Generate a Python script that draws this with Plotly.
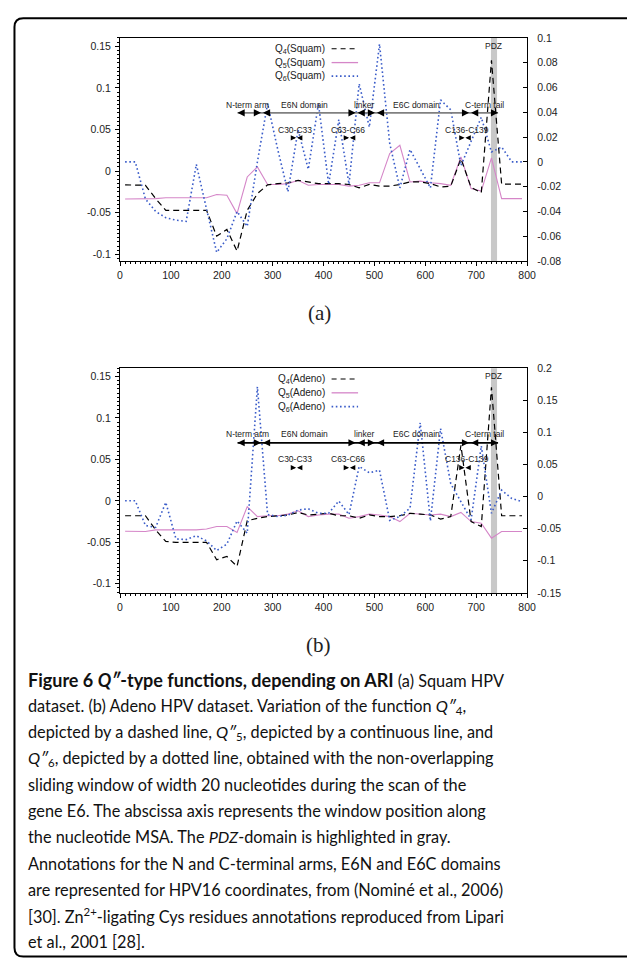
import plotly.graph_objects as go

# ---------------- data ----------------
window_pos = [10, 30, 50, 70, 90, 110, 130, 150, 170, 190,
              210, 230, 250, 270, 290, 310, 330, 350, 370, 390,
              410, 430, 450, 470, 490, 510, 530, 550, 570, 590,
              610, 630, 650, 670, 690, 710, 730, 750, 770, 790]

q4_squam = [-0.0165, -0.0165, -0.017, -0.033, -0.047, -0.047, -0.047, -0.047, -0.047, -0.078,
            -0.070, -0.096, -0.047, -0.027, -0.0165, -0.015, -0.014, -0.011, -0.013, -0.015,
            -0.015, -0.015, -0.016, -0.020, -0.016, -0.018, -0.018, -0.016, -0.013, -0.013,
            -0.015, -0.019, -0.018, 0.015, -0.0195, -0.026, 0.133, -0.0156, -0.0156, -0.0156]
q5_squam = [-0.0335, -0.0335, -0.0335, -0.033, -0.032, -0.032, -0.032, -0.032, -0.032, -0.028,
            -0.029, -0.051, -0.007, 0.005, -0.016, -0.016, -0.015, -0.011, -0.017, -0.016,
            -0.016, -0.016, -0.018, -0.017, -0.014, -0.014, 0.021, 0.031, -0.013, -0.012,
            -0.014, -0.015, -0.017, 0.017, -0.021, -0.024, 0.016, -0.033, -0.033, -0.033]
q6_squam = [0.0, 0.0, -0.030, -0.040, -0.045, -0.047, -0.048, -0.002, -0.038, -0.073,
            -0.062, -0.040, -0.052, 0.0, 0.047, 0.010, -0.024, 0.026, -0.006, 0.047,
            -0.018, 0.034, -0.018, 0.063, 0.028, 0.095, 0.015, -0.021, 0.010, -0.005,
            -0.021, 0.050, 0.042, -0.003, 0.016, 0.036, 0.008, 0.012, 0.0, 0.0]

q4_adeno = [-0.018, -0.018, -0.018, -0.035, -0.049, -0.050, -0.050, -0.050, -0.050, -0.071,
            -0.067, -0.079, -0.024, -0.021, -0.019, -0.018, -0.017, -0.014, -0.017, -0.016,
            -0.015, -0.018, -0.018, -0.021, -0.017, -0.019, -0.019, -0.018, -0.015, -0.016,
            -0.017, -0.022, -0.019, 0.067, -0.025, -0.031, 0.137, -0.018, -0.018, -0.018]
q5_adeno = [-0.0367, -0.0367, -0.037, -0.035, -0.035, -0.035, -0.035, -0.035, -0.034, -0.031,
            -0.031, -0.038, -0.007, -0.019, -0.018, -0.018, -0.016, -0.012, -0.019, -0.017,
            -0.016, -0.016, -0.021, -0.019, -0.016, -0.017, -0.019, -0.025, -0.015, -0.016,
            -0.017, -0.016, -0.019, -0.014, -0.025, -0.027, -0.045, -0.037, -0.037, -0.037]
q6_adeno = [-0.0066, -0.0066, -0.045, -0.048, -0.009, -0.066, -0.067, -0.061, -0.069, -0.084,
            -0.074, -0.038, -0.057, 0.171, -0.028, -0.031, -0.029, -0.021, -0.019, -0.026,
            -0.026, -0.007, -0.028, 0.047, 0.037, 0.041, -0.037, -0.031, -0.018, 0.115,
            -0.038, 0.106, 0.020, -0.008, -0.036, 0.079, -0.026, 0.010, -0.003, -0.008]

x_ticks = [0, 100, 200, 300, 400, 500, 600, 700, 800]
x_tick_labels = ["0", "100", "200", "300", "400", "500", "600", "700", "800"]
left_ticks = [-0.1, -0.05, 0, 0.05, 0.1, 0.15]
left_tick_labels = ["-0.1", "-0.05", "0", "0.05", "0.1", "0.15"]
right_ticks_a = [-0.08, -0.06, -0.04, -0.02, 0, 0.02, 0.04, 0.06, 0.08, 0.1]
right_tick_labels_a = ["-0.08", "-0.06", "-0.04", "-0.02", "0", "0.02", "0.04", "0.06", "0.08", "0.1"]
right_ticks_b = [-0.15, -0.1, -0.05, 0, 0.05, 0.1, 0.15, 0.2]
right_tick_labels_b = ["-0.15", "-0.1", "-0.05", "0", "0.05", "0.1", "0.15", "0.2"]

domain_names = ["N-term arm", "E6N domain", "linker", "E6C domain", "C-term tail"]
domain_start = [231, 281, 467, 505, 690]
domain_end = [277, 463, 501, 686, 743]
domain_label_x = [250, 362, 480, 583, 716]
cys_names = ["C30-C33", "C63-C66", "C136-C139"]
cys_label_x = [343, 449, 682]
cys_mark_x = [347, 451, 678]
pdz_start, pdz_end = 729, 741

caption_lines = [
    "<span style=\"font-size:18px\"><b>Figure 6 <i>Q″</i>-type functions, depending on ARI</b></span> (a) Squam HPV",
    "dataset. (b) Adeno HPV dataset. Variation of the function <i>Q″</i><sub>4</sub>,",
    "depicted by a dashed line, <i>Q″</i><sub>5</sub>, depicted by a continuous line, and",
    "<i>Q″</i><sub>6</sub>, depicted by a dotted line, obtained with the non-overlapping",
    "sliding window of width 20 nucleotides during the scan of the",
    "gene E6. The abscissa axis represents the window position along",
    "the nucleotide MSA. The <i>PDZ</i>-domain is highlighted in gray.",
    "Annotations for the N and C-terminal arms, E6N and E6C domains",
    "are represented for HPV16 coordinates, from (Nominé et al., 2006)",
    "[30]. Zn<sup>2+</sup>-ligating Cys residues annotations reproduced from Lipari",
    "et al., 2001 [28].",
]

# ---------------- layout helpers ----------------
W, H = 627, 965
def px(p):
    return p / W
def py(p):
    return 1 - p / H

X_DOM = [px(119.3), px(534.3)]
A_DOM = [py(258.3), py(32.3)]
B_DOM = [py(594.3), py(366.7)]

BLACK = "#000000"
PINK = "#d586c8"
BLUE = "#3a5cc9"
DASH4 = "6px,4px"
DOT6 = "1.6px,2.6px"
TICKFONT = dict(family="Liberation Sans, Arial, sans-serif", size=10.5, color="#222222")
SMALLFONT = dict(family="Liberation Sans, Arial, sans-serif", size=8.5, color="#222222")
LEGFONT = dict(family="Liberation Sans, Arial, sans-serif", size=10, color="#222222")

fig = go.Figure()

panels = [
    dict(xa="x", ya="y", ya2="y2", q4=q4_squam, q5=q5_squam, q6=q6_squam, tag="Squam",
         leg_y=[43.3, 57.3, 71.0], bar="#808080"),
    dict(xa="x2", ya="y3", ya2="y4", q4=q4_adeno, q5=q5_adeno, q6=q6_adeno, tag="Adeno",
         leg_y=[377.7, 391.7, 405.7], bar="#000000"),
]

shapes = []
annotations = []

for p in panels:
    fig.add_trace(go.Scatter(x=window_pos, y=p["q5"], mode="lines", xaxis=p["xa"], yaxis=p["ya"],
                             line=dict(color=PINK, width=1.1), showlegend=False))
    fig.add_trace(go.Scatter(x=window_pos, y=p["q4"], mode="lines", xaxis=p["xa"], yaxis=p["ya"],
                             line=dict(color=BLACK, width=1.2, dash=DASH4), showlegend=False))
    fig.add_trace(go.Scatter(x=window_pos, y=p["q6"], mode="lines", xaxis=p["xa"], yaxis=p["ya2"],
                             line=dict(color=BLUE, width=1.6, dash=DOT6), showlegend=False))

    # PDZ band
    shapes.append(dict(type="rect", xref=p["xa"], yref=p["ya"] + " domain", x0=pdz_start, x1=pdz_end,
                       y0=0, y1=1, fillcolor="#c8c8c8", line=dict(width=0), layer="below"))
    annotations.append(dict(xref=p["xa"], yref=p["ya"], x=735, y=0.15, text="PDZ", showarrow=False,
                            font=SMALLFONT, xanchor="center", yanchor="middle"))
    # domain annotation line
    shapes.append(dict(type="line", xref=p["xa"], yref=p["ya"], x0=domain_start[0], x1=domain_end[-1],
                       y0=0.07, y1=0.07, line=dict(color=p["bar"], width=1.8), layer="above"))
    for name, s, e, lx in zip(domain_names, domain_start, domain_end, domain_label_x):
        annotations.append(dict(xref=p["xa"], yref=p["ya"], x=e, y=0.07, ax=-7, ay=0, text="",
                                showarrow=True, arrowhead=2, arrowsize=1.1, arrowwidth=1.3,
                                arrowcolor=BLACK))
        annotations.append(dict(xref=p["xa"], yref=p["ya"], x=s, y=0.07, ax=7, ay=0, text="",
                                showarrow=True, arrowhead=2, arrowsize=1.1, arrowwidth=1.3,
                                arrowcolor=BLACK))
        annotations.append(dict(xref=p["xa"], yref=p["ya"], x=lx, y=0.08, text=name, showarrow=False,
                                font=SMALLFONT, xanchor="center", yanchor="middle"))
    for name, lx, mx in zip(cys_names, cys_label_x, cys_mark_x):
        annotations.append(dict(xref=p["xa"], yref=p["ya"], x=lx, y=0.05, text=name, showarrow=False,
                                font=SMALLFONT, xanchor="center", yanchor="middle"))
        annotations.append(dict(xref=p["xa"], yref=p["ya"], x=mx - 0.8, y=0.04, ax=-6, ay=0, text="",
                                showarrow=True, arrowhead=2, arrowsize=0.9, arrowwidth=1.2,
                                arrowcolor=BLACK))
        annotations.append(dict(xref=p["xa"], yref=p["ya"], x=mx + 0.8, y=0.04, ax=6, ay=0, text="",
                                showarrow=True, arrowhead=2, arrowsize=0.9, arrowwidth=1.2,
                                arrowcolor=BLACK))
    # manual legend (text left, sample right)
    styles = [dict(color=BLACK, width=1.2, dash="5px,4px"),
              dict(color=PINK, width=1.3),
              dict(color=BLUE, width=1.6, dash=DOT6)]
    for k, (ly, st) in enumerate(zip(p["leg_y"], styles)):
        annotations.append(dict(xref="paper", yref="paper", x=px(330.5), y=py(ly),
                                text="Q<sub>%d\u0308</sub>(%s)" % (k + 4, p["tag"]), showarrow=False,
                                font=LEGFONT, xanchor="right", yanchor="middle"))
        shapes.append(dict(type="line", xref="paper", yref="paper", x0=px(335), x1=px(362),
                           y0=py(ly), y1=py(ly), line=st))

# sub-figure labels
annotations.append(dict(xref="paper", yref="paper", x=px(323), y=py(311), text="(a)", showarrow=False,
                        font=dict(family="Liberation Serif, serif", size=21, color="#222"),
                        xanchor="center", yanchor="middle"))
annotations.append(dict(xref="paper", yref="paper", x=px(322), y=py(646.7), text="(b)", showarrow=False,
                        font=dict(family="Liberation Serif, serif", size=21, color="#222"),
                        xanchor="center", yanchor="middle"))

# caption
for i, line in enumerate(caption_lines):
    annotations.append(dict(xref="paper", yref="paper", x=px(23.3), y=py(682.7 + i * 26.46),
                            text=line, showarrow=False, xanchor="left", yanchor="middle", align="left",
                            font=dict(family="Lato, sans-serif", size=16.3, color="#111111")))

# outer frame with rounded left corners
xl, yt, yb = px(11.7), py(12.3), py(962.5)
rx, ry = 9 / W, 9 / H
shapes.append(dict(type="path", xref="paper", yref="paper",
                   path=f"M 1.02,{yt} L {xl + rx},{yt} Q {xl},{yt} {xl},{yt - ry} "
                        f"L {xl},{yb + ry} Q {xl},{yb} {xl + rx},{yb} L 1.02,{yb}",
                   line=dict(color="black", width=2)))

def xaxis_cfg(anchor):
    return dict(domain=X_DOM, range=[0, 800], anchor=anchor, showline=True, linecolor="black",
                linewidth=1.2, mirror=True, ticks="outside", ticklen=4, tickcolor="black",
                tickvals=x_ticks, ticktext=x_tick_labels, tickfont=TICKFONT,
                minor=dict(tickmode="linear", tick0=0, dtick=10, ticks="outside", ticklen=2,
                           tickcolor="black"),
                showgrid=False, zeroline=False, ticklabelstandoff=0)

def yleft_cfg(anchor, dom, rng):
    return dict(domain=dom, range=rng, anchor=anchor, side="left", showline=True, linecolor="black",
                linewidth=1.2, ticks="outside", ticklen=4, tickcolor="black",
                tickvals=left_ticks, ticktext=left_tick_labels, tickfont=TICKFONT,
                minor=dict(tickmode="linear", tick0=0, dtick=0.005, ticks="outside", ticklen=2,
                           tickcolor="black"),
                showgrid=False, zeroline=False, ticklabelstandoff=2)

def yright_cfg(anchor, over, rng, tv, tt):
    return dict(overlaying=over, range=rng, anchor=anchor, side="right", showline=True,
                linecolor="black", linewidth=1.2, ticks="inside", ticklen=4, tickcolor="black",
                tickvals=tv, ticktext=tt, tickfont=TICKFONT, showgrid=False, zeroline=False,
                ticklabelstandoff=7)

fig.update_layout(
    width=W, height=H, margin=dict(l=0, r=0, t=0, b=0), autosize=False,
    paper_bgcolor="white", plot_bgcolor="rgba(0,0,0,0)", showlegend=False,
    xaxis=xaxis_cfg("y"),
    yaxis=yleft_cfg("x", A_DOM, [-0.108, 0.160]),
    yaxis2=yright_cfg("x", "y", [-0.08, 0.1], right_ticks_a, right_tick_labels_a),
    xaxis2=xaxis_cfg("y3"),
    yaxis3=yleft_cfg("x2", B_DOM, [-0.111, 0.160]),
    yaxis4=yright_cfg("x2", "y3", [-0.15, 0.2], right_ticks_b, right_tick_labels_b),
    shapes=shapes, annotations=annotations,
)

fig.write_html("out.html")
